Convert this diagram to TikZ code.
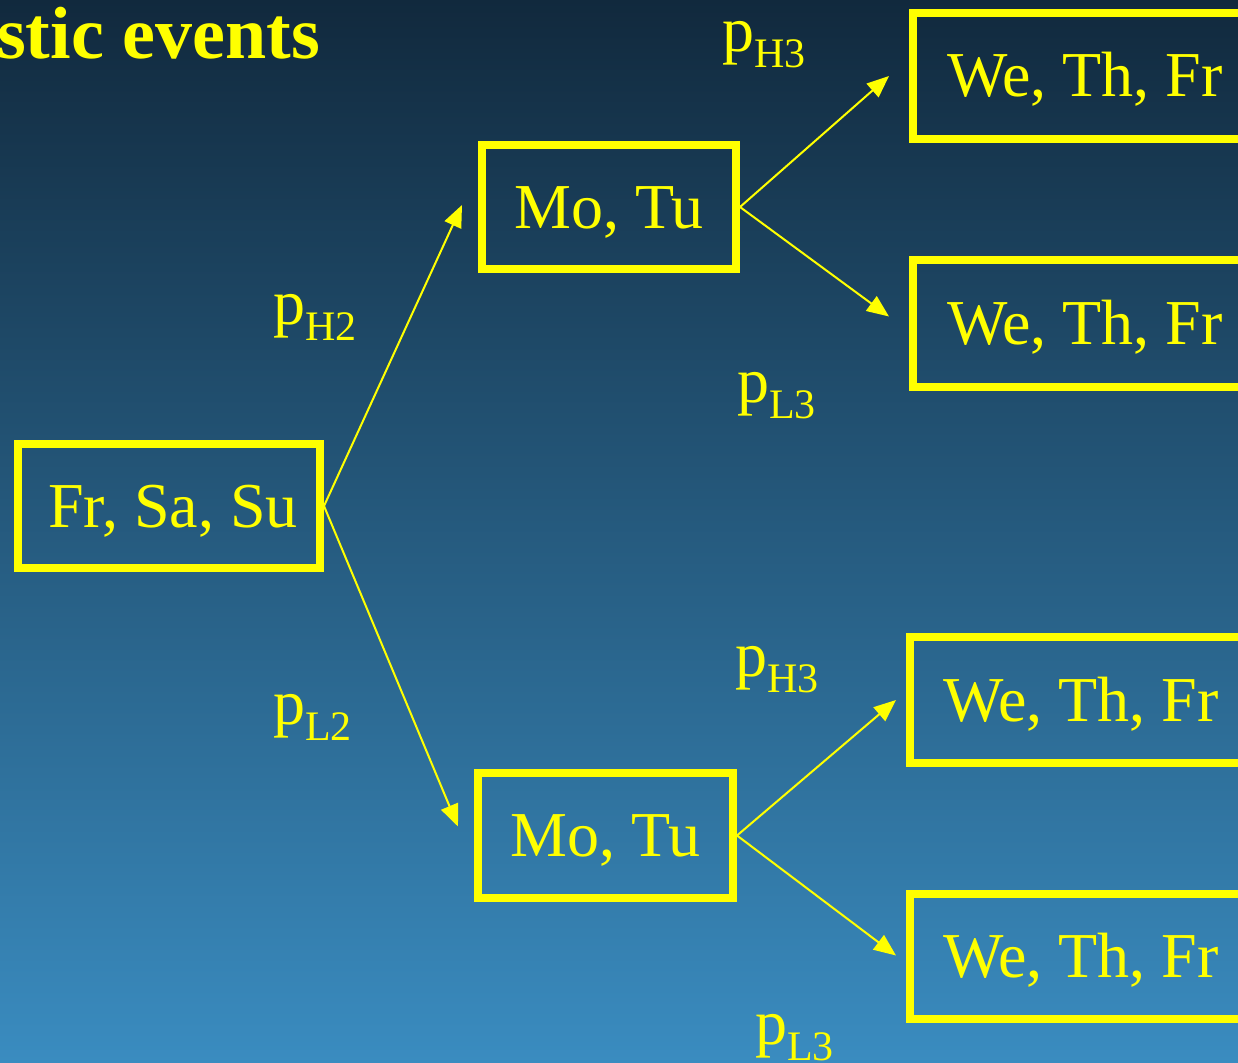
\documentclass[tikz,border=0pt]{standalone}
\usepackage{fontspec}
\setmainfont{Liberation Serif}
\usetikzlibrary{arrows.meta}
\definecolor{bgtop}{RGB}{17,41,61}
\definecolor{bgbot}{RGB}{58,140,192}
\definecolor{ylw}{RGB}{255,255,0}
\newcommand{\prob}[1]{p\raisebox{-16pt}{\fontsize{42}{42}\selectfont #1}}
\tikzset{
  daybox/.style={draw=ylw, line width=8pt, text=ylw, inner sep=0pt,
    font=\fontsize{64}{70}\selectfont, text height=42pt, text depth=0pt},
  problabel/.style={text=ylw, anchor=base west, inner sep=0pt,
    font=\fontsize{64}{70}\selectfont},
  branch/.style={draw=ylw, line width=2pt, -{Triangle[length=22pt,width=18pt]}}
}
\begin{document}
\begin{tikzpicture}[x=1pt,y=-1pt]
\clip (0,0) rectangle (1238,1062);
\shade[top color=bgtop, bottom color=bgbot] (0,0) rectangle (1238,1062);

\node[text=ylw, anchor=base west, inner sep=0pt, font=\fontsize{74}{80}\selectfont\bfseries] (title) at (-3,59) {stic events};

\node[daybox, minimum width=302pt, minimum height=124pt] (fss) at (169,506) {\hspace*{8pt}Fr, Sa, Su};
\node[daybox, minimum width=254pt, minimum height=124pt] (mt1) at (609,207) {Mo, Tu};
\node[daybox, minimum width=255pt, minimum height=125pt] (mt2) at (605.5,835.5) {Mo, Tu};
\node[daybox, minimum width=344pt, minimum height=126pt] (w1) at (1085,76) {We, Th, Fr};
\node[daybox, minimum width=344pt, minimum height=127pt] (w2) at (1085,323.5) {We, Th, Fr};
\node[daybox, minimum width=342pt, minimum height=126pt] (w3) at (1081,700) {We, Th, Fr};
\node[daybox, minimum width=342pt, minimum height=125pt] (w4) at (1081,956.5) {We, Th, Fr};

\draw[branch] (fss.east) -- ([xshift=-16pt,yshift=2pt]mt1.west);
\draw[branch] (fss.east) -- ([xshift=-16pt,yshift=9pt]mt2.west);
\draw[branch] (mt1.east) -- ([xshift=-20pt]w1.west);
\draw[branch] (mt1.east) -- ([xshift=-20pt,yshift=7pt]w2.west);
\draw[branch] (mt2.east) -- ([xshift=-10pt]w3.west);
\draw[branch] (mt2.east) -- ([xshift=-10pt,yshift=1pt]w4.west);

\node[problabel] (lh3a) at (722,52) {\prob{H3}};
\node[problabel] (lh2) at (273,324) {\prob{H2}};
\node[problabel] (ll3a) at (737,402) {\prob{L3}};
\node[problabel] (lh3b) at (735,676) {\prob{H3}};
\node[problabel] (ll2) at (273,724) {\prob{L2}};
\node[problabel] (ll3b) at (755,1044) {\prob{L3}};
\end{tikzpicture}
\end{document}
